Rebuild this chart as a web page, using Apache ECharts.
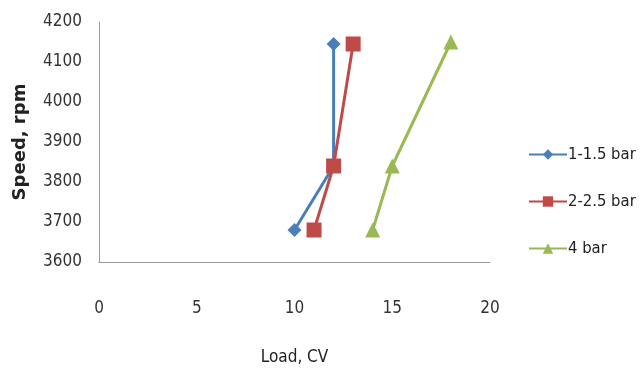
<!DOCTYPE html>
<html><head><meta charset="utf-8">
<script src="https://cdn.jsdelivr.net/npm/echarts@6/dist/echarts.min.js"></script>
<style>html,body{margin:0;padding:0;background:#fff}#c{width:641px;height:371px}</style>
</head><body><div id="c"></div>
<script>
const seriesNames = ['1-1.5 bar', '2-2.5 bar', '4 bar'];
const loadA = [10, 12, 12];
const speedA = [3680, 3840, 4145];
const loadB = [11, 12, 13];
const speedB = [3680, 3840, 4145];
const loadC = [14, 15, 18];
const speedC = [3680, 3840, 4150];
const colors = ['#4a7ebb', '#be4b48', '#98b954'];
const symbols = ['diamond', 'rect', 'triangle'];
const font = '"Liberation Sans Narrow", "DejaVu Sans Condensed", sans-serif';

function pairs(xs, ys){ return xs.map((x,i)=>[x, ys[i]]); }
const data = [pairs(loadA, speedA), pairs(loadB, speedB), pairs(loadC, speedC)];

const chart = echarts.init(document.getElementById('c'));
chart.setOption({
  animation: false,
  grid: {left: 99, right: 151, top: 22, bottom: 104},
  legend: {
    orient: 'vertical', left: 528, top: 146, itemGap: 30, padding: 0,
    itemWidth: 38, itemHeight: 13,
    textStyle: {fontFamily: font, fontSize: 16.5, color: '#222', padding: [0,0,0,-4]},
    data: seriesNames
  },
  xAxis: {
    type: 'value', min: 0, max: 20, interval: 5,
    name: 'Load, CV', nameLocation: 'middle', nameGap: 87,
    nameTextStyle: {fontFamily: font, fontSize: 17, color: '#222'},
    axisLine: {show: true, lineStyle: {color: '#999'}},
    axisTick: {show: false},
    splitLine: {show: false},
    axisLabel: {margin: 38, fontFamily: font, fontSize: 17, color: '#333'}
  },
  yAxis: {
    type: 'value', min: 3600, max: 4200, interval: 100,
    name: 'Speed, rpm', nameLocation: 'middle', nameGap: 70,
    nameTextStyle: {fontFamily: '"DejaVu Sans", sans-serif', fontWeight: 'bold', fontSize: 18, color: '#222'},
    axisLine: {show: true, lineStyle: {color: '#999'}},
    axisTick: {show: false},
    splitLine: {show: false},
    axisLabel: {margin: 17, fontFamily: font, fontSize: 17, color: '#333', formatter: v => String(v)}
  },
  series: seriesNames.map((n, i) => ({
    name: n, type: 'line', data: data[i],
    symbol: symbols[i], symbolSize: i === 0 ? 14 : 15, showSymbol: true,
    lineStyle: {width: 3, color: colors[i]},
    itemStyle: {color: colors[i]}
  }))
});
</script></body></html>
